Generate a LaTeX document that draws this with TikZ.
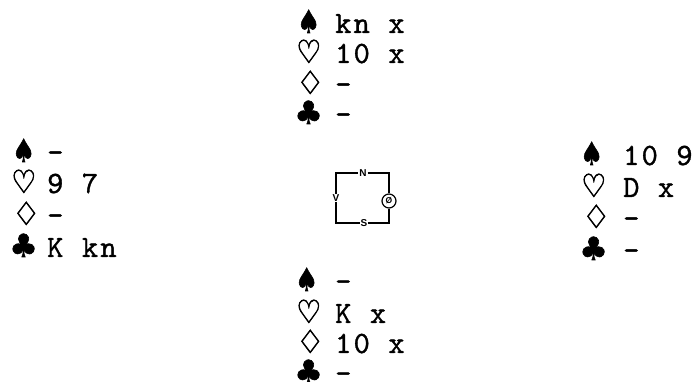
\documentclass[tikz,border=0pt]{standalone}
\usepackage{fontspec}
\usepackage{graphicx}
\newfontfamily\suitfont[FakeBold=2]{DejaVu Sans}
\newfontfamily\labfont{Liberation Sans}
\newfontfamily\cardfam[LetterSpace=7,FakeBold=1.1]{lmmono10-regular.otf}
\newcommand{\sS}{\scalebox{0.8}[1]{♠}}
\newcommand{\sH}{\scalebox{0.88}[1]{♡}}
\newcommand{\sD}{\scalebox{0.98}[1]{♢}}
\newcommand{\sC}{\scalebox{1.0}[1]{♣}}
\begin{document}
\begin{tikzpicture}[x=1pt,y=-1pt,
  suit/.style={anchor=base west,inner sep=0pt,font=\suitfont\fontsize{32}{32}\selectfont},
  cards/.style={anchor=base west,inner sep=0pt,font=\cardfam\fontsize{31}{31}\selectfont},
  lab/.style={inner sep=0.8pt,font=\labfont\bfseries\fontsize{10}{10}\selectfont},
  ln/.style={line width=1.2pt}]
\useasboundingbox (0,0) rectangle (697,382);
% North
\node[suit] (ns) at (297,33) {\sS}; \node[cards] (nst) at (335,33) {kn x};
\node[suit] (nh) at (296,63) {\sH}; \node[cards] (nht) at (335,63) {10 x};
\node[suit] (nd) at (296,94) {\sD}; \node[cards] (ndt) at (335,94) {-};
\node[suit] (nc) at (294,124) {\sC}; \node[cards] (nct) at (335,124) {-};
% West
\node[suit] (ws) at (12,162) {\sS}; \node[cards] (wst) at (47,162) {-};
\node[suit] (wh) at (11,193) {\sH}; \node[cards] (wht) at (47,193) {9 7};
\node[suit] (wd) at (12,225) {\sD}; \node[cards] (wdt) at (47,225) {-};
\node[suit] (wc) at (9,257) {\sC}; \node[cards] (wct) at (47,257) {K kn};
% East
\node[suit] (es) at (580,165) {\sS}; \node[cards] (est) at (623,165) {10 9};
\node[suit] (eh) at (581,197) {\sH}; \node[cards] (eht) at (623,197) {D x};
\node[suit] (ed) at (582,228) {\sD}; \node[cards] (edt) at (623,228) {-};
\node[suit] (ec) at (579,260) {\sC}; \node[cards] (ect) at (623,260) {-};
% South
\node[suit] (ss) at (295,291) {\sS}; \node[cards] (sst) at (335,291) {-};
\node[suit] (sh) at (296,323) {\sH}; \node[cards] (sht) at (335,323) {K x};
\node[suit] (sd) at (296,353) {\sD}; \node[cards] (sdt) at (335,353) {10 x};
\node[suit] (sc) at (294,383) {\sC}; \node[cards] (sct) at (335,383) {-};
% compass
\node[lab] (N) at (363,173) {N};
\node[lab] (V) at (336,198) {V};
\node[lab] (S) at (364,223) {S};
\node[circle,draw,line width=1.2pt,minimum size=14pt,inner sep=0pt,font=\labfont\bfseries\fontsize{8.5}{8.5}\selectfont] (E) at (389,201) {Ø};
\coordinate (tl) at (336,173);
\coordinate (tr) at (389,173);
\coordinate (br) at (389,223);
\coordinate (bl) at (336,223);
\draw[ln] (V.north) -- (tl) -- (N.west);
\draw[ln] (N.east) -- (tr) -- (E.north);
\draw[ln] (E.south) -- (br) -- (S.east);
\draw[ln] (S.west) -- (bl) -- (V.south);
\end{tikzpicture}
\end{document}
